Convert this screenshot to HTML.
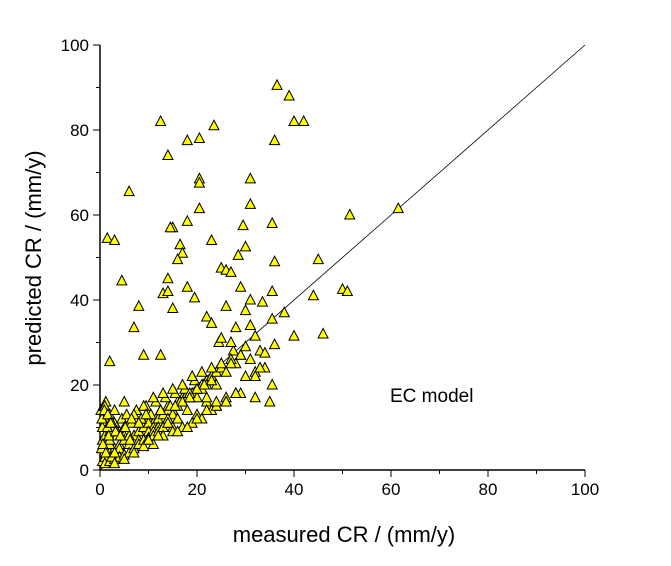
<!DOCTYPE html>
<html><head><meta charset="utf-8"><style>
body{margin:0;background:#fff}
svg text{font-family:"Liberation Sans",Arial,sans-serif}
</style></head><body>
<svg id="chart" width="671" height="561" viewBox="0 0 671 561" xmlns="http://www.w3.org/2000/svg">
<g id="axes"></g><g id="marks"></g>
<text x="344" y="542" font-size="22" text-anchor="middle">measured CR / (mm/y)</text>
<text transform="translate(41,258) rotate(-90)" font-size="22" text-anchor="middle">predicted CR / (mm/y)</text>
<text x="390" y="402" font-size="19">EC model</text>
</svg>
<script>
const xTicks=[0,20,40,60,80,100];
const yTicks=[0,20,40,60,80,100];
const measured=[36.5,39,40,42,12.5,23.5,18,20.5,36,14,31,20.5,20.5,6,15,14.5,20.5,29.5,31,35.5,51.5,61.5,1.5,3,23,18,4.5,16.5,17,30,25,26,27,16,36,45,28.5,7,8,14,13,14,18,19.5,15,22,29,31,30,33.5,35.5,38,40,44,46,50,51,35.5,35.5,36,32,33,34,31,28,26,23,24.5,27.5,25,28,2,9,12.5,
0.5,1,1.5,2,2.5,3,0.5,1,1.5,2,0.5,1,0.2,0.8,1.2,2,3,4,5,6,7,8,9,10,11,12,13,14,15,16,17,18,19,20,21,22,23,24,25,
1,2,3,4,5,6,7,8,9,10,11,12,13,14,15,16,17,18,19,20,21,22,23,24,
1.5,2.5,3.5,4.5,5.5,6.5,7.5,8.5,9.5,10.5,11.5,12.5,13.5,14.5,15.5,16.5,17.5,18.5,19.5,
1,3,5,7,9,11,13,15,17,19,21,23,25,27,29,31,
2,4,6,8,10,12,14,16,18,20,22,24,26,28,30,32,34,
0.5,2,3.5,5,6.5,8,9.5,11,12.5,14,15.5,17,18.5,20,21.5,23,
1,2,3,4,5,6,7,8,9,10,11,12,13,14,15,16,
0.3,0.6,1.2,1.8,2.4,3,0.4,0.9,1.6,2.2,3.2,4.2,5.2,6.2,
3,5,7,9,11,13,15,17,19,21,23,26,29,32,35,
10,12,14,16,18,20,22,24,26,28,
22,24,26,27,29,30,32,33,25,27];
const predicted=[90.5,88,82,82,82,81,77.5,78,77.5,74,68.5,68.5,67.5,65.5,57,57,61.5,57.5,62.5,58,60,61.5,54.5,54,54,58.5,44.5,53,51,52.5,47.5,47,46.5,49.5,49,49.5,50.5,33.5,38.5,45,41.5,42,43,40.5,38,36,43,40,37.5,39.5,42,37,31.5,41,32,42.5,42,20,35.5,29.5,31.5,28,27.5,34,33.5,38.5,34.5,30,28,25,25,25.5,27,27,
2,3,4,5,2.5,3,7,8,6,9,10,12,14,15,16,13,11,9,8,7,8,9,10,12,11,13,12,15,14,16,17,18,17,19,20,21,22,23,24,
3,4,5,6,7,6,8,9,10,11,10,12,13,14,13,15,16,17,18,17,19,20,21,20,
10,11,9,12,13,11,14,12,15,13,16,14,17,15,18,16,19,18,21,
15,14,16,13,15,17,18,19,20,22,23,24,25,26,27,26,
6,5,8,7,9,10,11,12,14,13,16,15,17,18,22,23,24,
12,7,8,10,12,11,13,9,14,12,15,16,17,19,20,21,
1.5,2,2.5,3,3.5,4,5,6,7,7.5,8,9,10,11,10,12,
5,6,4,8,3,4,12,14,13,11,9,8,10,7,
1.5,2.5,4,5.5,6,8,9,10,11,12,14,16,18,17,16,
7,8,11,9,10,12,14,15,16,18,
17,16,23,25,27,29,22,24,31,30];
const X0=100,X1=585,Y0=470,Y1=45;
const sx=v=>X0+(v/100)*(X1-X0), sy=v=>Y0-(v/100)*(Y0-Y1);
const NS='http://www.w3.org/2000/svg';
const axes=document.getElementById('axes'), marks=document.getElementById('marks');
function mk(tag,attrs,parent){const e=document.createElementNS(NS,tag);for(const k in attrs)e.setAttribute(k,attrs[k]);parent.appendChild(e);return e;}
const ax=mk('line',{x1:X0,y1:Y0,x2:X1,y2:Y0,stroke:'#000','stroke-width':1.5},axes);


const ay=mk('line',{x1:X0,y1:Y0,x2:X0,y2:Y1,stroke:'#000','stroke-width':1.5},axes);


const diag=mk('line',{x1:sx(0),y1:sy(0),x2:sx(100),y2:sy(100),stroke:'#000','stroke-width':0.8},axes);


for(let v=0;v<=100;v+=10){const maj=v%20===0;
 const t=mk('line',{x1:sx(v),y1:Y0,x2:sx(v),y2:Y0+(maj?7:4),stroke:'#000','stroke-width':1},axes);
 
 
 const u=mk('line',{x1:X0,y1:sy(v),x2:X0-(maj?7:4),y2:sy(v),stroke:'#000','stroke-width':1},axes);
 
 }
xTicks.forEach(v=>{const t=mk('text',{x:sx(v),y:Y0+25,'font-size':17,'text-anchor':'middle'},axes);t.textContent=v;
 
 });
yTicks.forEach(v=>{const t=mk('text',{x:X0-11,y:sy(v)+6,'font-size':17,'text-anchor':'end'},axes);t.textContent=v;
 
 });
measured.forEach((m,i)=>{const x=sx(m),y=sy(predicted[i]);
 const p=mk('polygon',{points:`${x},${y-5.5} ${x-5},${y+4} ${x+5},${y+4}`,fill:'#ffff00',stroke:'#000','stroke-width':1},marks);
 
 });
</script>
</body></html>
